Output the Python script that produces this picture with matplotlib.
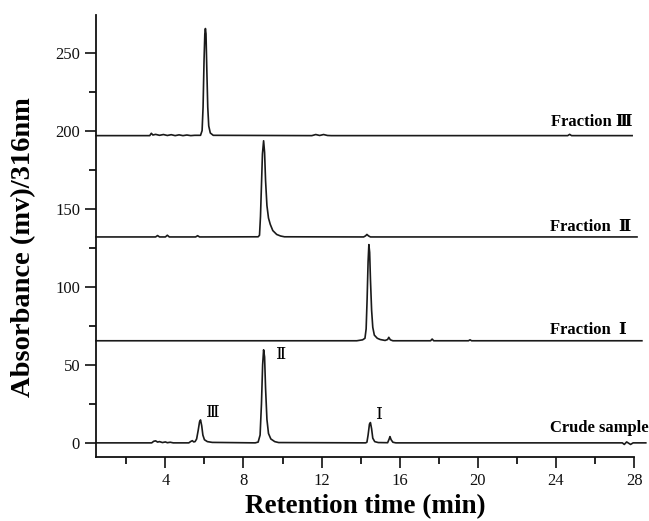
import matplotlib
matplotlib.use("Agg")
import matplotlib.pyplot as plt
from matplotlib.ticker import MultipleLocator

# ---------------- data ----------------
crude_t = [0.45, 3.30, 3.40, 3.50, 3.60, 3.70, 3.85, 4.00, 4.10, 4.25, 4.40, 5.20, 5.30, 5.38, 5.45,
           5.52, 5.60, 5.68, 5.75, 5.80, 5.86, 5.92, 6.00, 6.15, 6.40, 8.60, 8.75, 8.85, 8.92, 8.98,
           9.03, 9.08, 9.13, 9.20, 9.28, 9.40, 9.60, 9.80, 14.25, 14.32, 14.38, 14.45, 14.50, 14.56,
           14.62, 14.72, 14.90, 15.38, 15.46, 15.50, 15.56, 15.65, 15.80, 27.40, 27.50, 27.62, 27.72,
           27.82, 27.95, 28.60]
crude_y = [0.0, 0.0, 1.0, 1.3, 0.5, 0.8, 0.2, 0.6, 0.1, 0.4, 0.0, 0.0, 0.9, 1.4, 0.6,
           0.8, 2.5, 8.0, 13.5, 14.7, 11.0, 5.0, 2.0, 0.8, 0.3, 0.0, 0.5, 5.0, 25.0, 50.0,
           59.6, 55.0, 35.0, 15.0, 6.0, 2.5, 0.8, 0.2, 0.0, 0.4, 5.0, 12.0, 13.0, 9.0,
           3.0, 0.8, 0.2, 0.1, 2.5, 4.0, 2.0, 0.4, 0.0, 0.0, -1.0, 0.6, -0.2,
           -1.0, 0.0, 0.0]

frac1_t = [0.45, 13.80, 14.10, 14.22, 14.28, 14.33, 14.38, 14.42, 14.46, 14.50, 14.56, 14.62, 14.70,
           14.85, 15.00, 15.25, 15.38, 15.44, 15.52, 15.65, 17.58, 17.66, 17.74, 19.52, 19.60,
           19.68, 28.40]
frac1_y = [65.4, 65.4, 66.0, 67.0, 73.0, 92.0, 116.0, 127.0, 122.0, 105.0, 85.0, 74.0, 69.0,
           67.0, 66.2, 65.6, 66.2, 67.6, 66.0, 65.4, 65.4, 66.5, 65.4, 65.4, 66.0,
           65.4, 65.4]

frac2_t = [0.45, 3.50, 3.60, 3.70, 4.00, 4.10, 4.20, 5.55, 5.65, 5.75, 8.75, 8.82, 8.87, 8.92,
           8.97, 9.03, 9.08, 9.13, 9.20, 9.28, 9.37, 9.50, 9.70, 9.90, 10.10, 14.15, 14.25,
           14.32, 14.40, 14.50, 28.15]
frac2_y = [131.9, 131.9, 132.8, 131.9, 131.9, 133.0, 131.9, 131.9, 132.7, 131.9, 132.0, 133.0, 145.0, 165.0,
           185.0, 193.5, 186.0, 168.0, 152.0, 144.0, 140.0, 136.0, 133.5, 132.5, 132.0, 131.9, 132.6,
           133.5, 132.6, 131.9, 131.9]

frac3_t = [0.45, 3.20, 3.28, 3.36, 3.50, 3.70, 3.90, 4.10, 4.30, 4.50, 4.70, 4.90, 5.10, 5.30,
           5.50, 5.80, 5.88, 5.93, 5.98, 6.02, 6.05, 6.08, 6.12, 6.17, 6.22, 6.30, 6.45, 11.50,
           11.70, 11.90, 12.10, 12.30, 12.50, 24.60, 24.70, 24.80, 27.90]
frac3_y = [196.8, 196.8, 198.3, 197.2, 197.6, 197.0, 197.5, 196.9, 197.4, 196.8, 197.3, 196.8, 197.2, 196.8,
           197.0, 197.0, 200.0, 215.0, 245.0, 262.0, 265.4, 262.0, 240.0, 215.0, 203.0, 198.5, 197.0, 196.8,
           197.5, 196.9, 197.5, 196.9, 196.8, 196.8, 197.6, 196.8, 196.8]

trace_names = ["Crude sample", "Fraction  \u2160", "Fraction  \u2161", "Fraction \u2162"]
trace_label_x = [23.70, 23.72, 23.72, 23.75]
trace_label_y = [9.5, 72.5, 138.5, 205.5]

peak_names = ["\u2162", "\u2161", "\u2160"]
peak_label_x = [6.45, 9.95, 14.95]
peak_label_y = [19.0, 56.5, 18.0]

xticks_major = [4, 8, 12, 16, 20, 24, 28]
yticks_major = [0, 50, 100, 150, 200, 250]

# ---------------- figure ----------------
serif = ["Liberation Serif", "DejaVu Serif", "Noto Sans CJK SC"]
plt.rcParams["font.family"] = serif

fig = plt.figure(figsize=(6.49, 5.21), dpi=100)
ax = fig.add_axes([0.148, 0.123, 0.829, 0.848])

lc = "#1a1a1a"
for t, y in [(crude_t, crude_y), (frac1_t, frac1_y), (frac2_t, frac2_y), (frac3_t, frac3_y)]:
    ax.plot(t, y, color=lc, lw=1.2, clip_on=False, solid_joinstyle="round")

for name, x, y in zip(trace_names, trace_label_x, trace_label_y):
    ax.text(x, y, name, fontsize=12, fontweight="bold", ha="left", va="center",
            family=serif, clip_on=False)

for name, x, y in zip(peak_names, peak_label_x, peak_label_y):
    ax.text(x, y, name, fontsize=12.5, ha="center", va="center", family=serif)

ax.set_xlim(0.45, 28)
ax.set_ylim(-9, 274)
ax.set_xticks(xticks_major)
ax.set_yticks(yticks_major)
ax.xaxis.set_minor_locator(MultipleLocator(2))
ax.yaxis.set_minor_locator(MultipleLocator(25))
ax.tick_params(which="major", direction="out", length=8, width=1.2, labelsize=12, colors="#111111")
ax.tick_params(which="minor", direction="out", length=5, width=1.2)

for s in ["top", "right"]:
    ax.spines[s].set_visible(False)
for s in ["left", "bottom"]:
    ax.spines[s].set_linewidth(1.3)
    ax.spines[s].set_color("#111111")

ax.set_xlabel("Retention time (min)", fontsize=19.5, fontweight="bold", labelpad=4)
ax.set_ylabel("Absorbance (mv)/316nm", fontsize=20.5, fontweight="bold")
ax.yaxis.set_label_coords(-0.112, 0.475)

fig.savefig("out.png", dpi=100)
